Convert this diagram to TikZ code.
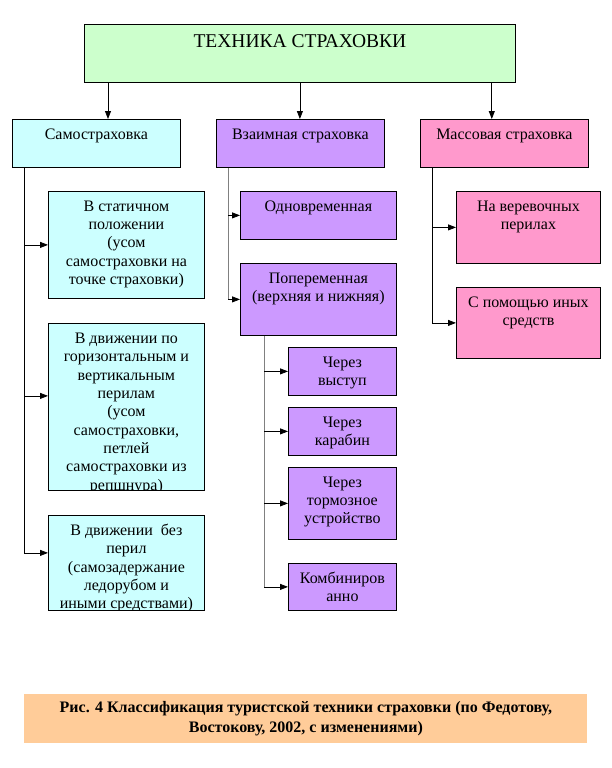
\documentclass[tikz,border=0pt]{standalone}
\usepackage{fontspec}
\setmainfont{Liberation Serif}
\usetikzlibrary{arrows.meta}

\definecolor{titlegreen}{HTML}{CCFFCC}
\definecolor{cyanbox}{HTML}{CCFFFF}
\definecolor{lilac}{HTML}{CC99FF}
\definecolor{pinkbox}{HTML}{FF99CC}
\definecolor{peach}{HTML}{FFCC99}

% text of a box: width, height, lines
\newcommand{\bt}[3]{\parbox[c][#2pt][t]{#1pt}{\centering\vspace*{7pt}\strut #3\par}}

\begin{document}
\begin{tikzpicture}[x=1pt, y=-1pt, font=\fontsize{16}{18.3}\selectfont,
  blk/.style={draw, line width=0.8pt, anchor=north west, inner sep=0pt},
  inner/.style={draw=none, fill=none, anchor=north, inner sep=0pt},
  arr/.style={-{Triangle[length=8pt,width=6pt]}, line width=0.8pt},
  trunk/.style={line width=0.8pt}]
\fill[white] (0,0) rectangle (612,768);

% top
\node[blk, fill=titlegreen] (tech) at (84,24)
  {\parbox[c][58pt][t]{431pt}{\centering\vspace*{8pt}\fontsize{19.5}{22}\selectfont\strut ТЕХНИКА СТРАХОВКИ\par}};

% three kinds
\node[blk, fill=cyanbox] (sam) at (12,119) {\bt{168}{48}{Самостраховка}};
\node[blk, fill=lilac] (vz) at (216,119) {\bt{168}{48}{Взаимная страховка}};
\node[blk, fill=pinkbox] (mass) at (420,119) {\bt{168}{48}{Массовая страховка}};

\draw[arr] ([xshift=24pt]tech.south west) -- ([xshift=24pt]tech.south west |- sam.north);
\draw[arr] (tech.south) -- (tech.south |- vz.north);
\draw[arr] ([xshift=-24pt]tech.south east) -- ([xshift=-24pt]tech.south east |- mass.north);

% self belay
\node[blk, fill=cyanbox] (st1) at (48,191)
  {\bt{156}{107}{В статичном\\ положении\\ (усом\\ самостраховки на\\ точке страховки)}};
\node[blk, fill=cyanbox, minimum width=156pt, minimum height=167pt,
  path picture={\node[inner] (st2txt) at (path picture bounding box.north)
  {\bt{156}{167}{В движении по\\ горизонтальным и\\ вертикальным\\ перилам\\ (усом\\ самостраховки,\\ петлей\\ самостраховки из\\ репшнура)}};}] (st2) at (48,323) {};
\node[blk, fill=cyanbox, minimum width=156pt, minimum height=95pt,
  path picture={\node[inner] (st3txt) at (path picture bounding box.north)
  {\bt{156}{95}{В движении\ \ без\\ перил\\ (самозадержание\\ ледорубом и\\ иными средствами)}};}] (st3) at (48,515) {};

\coordinate (samT) at ([xshift=12pt]sam.south west);
\coordinate (st2in) at ([yshift=11pt]st2.west);
\coordinate (st3in) at ([yshift=10pt]st3.west);
\draw[trunk] (samT) -- (samT |- st3in);
\draw[arr] (samT |- st1.west) -- (st1.west);
\draw[arr] (samT |- st2in) -- (st2in);
\draw[arr] (samT |- st3in) -- (st3in);

% mutual belay
\node[blk, fill=lilac] (odn) at (240,191) {\bt{156}{48}{Одновременная}};
\node[blk, fill=lilac] (pop) at (240,263) {\bt{156}{72}{Попеременная\\ (верхняя и нижняя)}};
\node[blk, fill=lilac] (vys) at (288,347) {\bt{108}{48}{Через\\ выступ}};
\node[blk, fill=lilac] (kar) at (288,407) {\bt{108}{48}{Через\\ карабин}};
\node[blk, fill=lilac] (torm) at (288,467) {\bt{108}{72}{Через\\ тормозное\\ устройство}};
\node[blk, fill=lilac] (komb) at (288,563) {\bt{108}{47}{Комбиниров\\ анно}};

\coordinate (vzT) at ([xshift=12pt]vz.south west);
\draw[trunk, gray] (vzT) -- (vzT |- pop.west);
\draw[arr] (vzT |- odn.west) -- (odn.west);
\draw[arr] (vzT |- pop.west) -- (pop.west);

\coordinate (popT) at ([xshift=24pt]pop.south west);
\draw[trunk, gray] (popT) -- (popT |- komb.west);
\foreach \n in {vys, kar, torm, komb}
  \draw[arr] (popT |- \n.west) -- (\n.west);

% mass belay
\node[blk, fill=pinkbox] (ver) at (456,191) {\bt{144}{72}{На веревочных\\ перилах}};
\node[blk, fill=pinkbox] (pom) at (456,287) {\bt{144}{71}{С помощью иных\\ средств}};

\coordinate (massT) at ([xshift=12pt]mass.south west);
\draw[trunk] (massT) -- (massT |- pom.west);
\draw[arr] (massT |- ver.west) -- (ver.west);
\draw[arr] (massT |- pom.west) -- (pom.west);

% caption
\node[blk, draw=none, fill=peach] (cap) at (24,694)
  {\parbox[c][49pt][c]{563pt}{\centering\bfseries\fontsize{16}{20}\selectfont Рис. 4 Классификация туристской техники страховки (по Федотову,\\ Востокову, 2002, с изменениями)}};
\end{tikzpicture}
\end{document}
